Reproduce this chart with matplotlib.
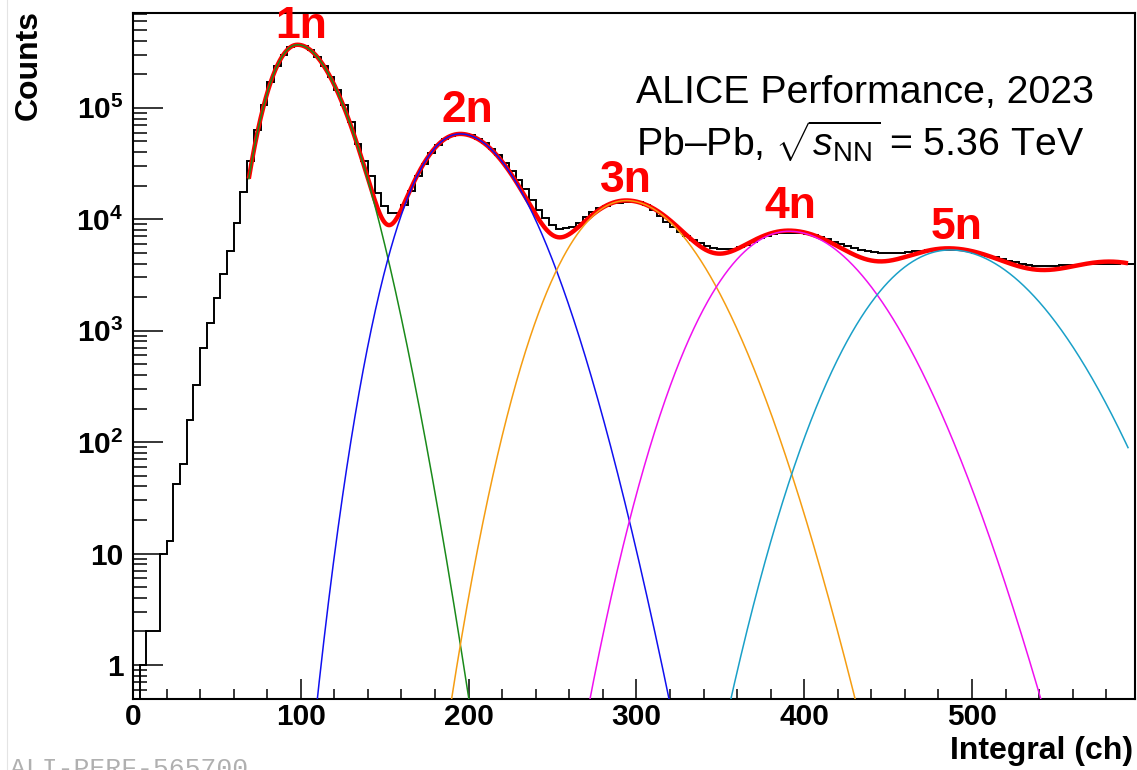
import numpy as np
import matplotlib
matplotlib.use('Agg')
from matplotlib import pyplot as plt
from matplotlib.lines import Line2D
from matplotlib.ticker import FixedLocator, MultipleLocator, FuncFormatter, NullFormatter

plt.rcParams['font.family'] = ['Liberation Sans', 'DejaVu Sans']
plt.rcParams['mathtext.fontset'] = 'custom'
plt.rcParams['mathtext.rm'] = 'Liberation Sans'
plt.rcParams['mathtext.it'] = 'Liberation Sans:italic'
plt.rcParams['mathtext.bf'] = 'Liberation Sans:bold'

# ZDC integral spectrum, 4 channels per bin starting at 0
bin_width = 4
counts = [0, 1, 2, 2, 10, 13, 42, 64, 157, 328, 701, 1167, 1958, 3234, 5224, 9290, 17660, 33000,
          63000, 106000, 170000, 235000, 300000, 354000, 366000, 360000, 328000, 285000,
          238000, 190000, 145000, 106000, 74000, 47000, 33000, 24200, 17100, 13200,
          11300, 11300, 13400, 18000, 24500, 31500, 39000, 46000, 52000, 56000,
          58300, 58300, 56500, 53000, 48500, 43000, 37500, 32000, 27000, 22500,
          18500, 15000, 12100, 10200, 8900, 8130, 8300, 8600, 9200, 10500,
          11700, 12600, 13200, 13900, 13900, 14200, 14200, 14200, 13400, 12100,
          10700, 9500, 8600, 7700, 7080, 6500, 6100, 5700, 5500, 5400,
          5400, 5450, 5600, 5900, 6300, 6800, 7100, 7400, 7550, 7600,
          7600, 7500, 7350, 7150, 6900, 6600, 6300, 6000, 5750, 5500,
          5300, 5150, 5050, 4950, 4950, 4950, 5000, 5050, 5150, 5200,
          5300, 5300, 5350, 5350, 5300, 5250, 5150, 5000, 4850, 4700,
          4550, 4400, 4250, 4100, 3950, 3850, 3800, 3800, 3800, 3800,
          3850, 3850, 3850, 3900, 3950, 4000, 4000, 4000, 4000, 4050,
          4000, 4000]

# fitted neutron peaks: position, height, widths (in sqrt(ch)) left / right of the peak
peak_names = ['1n', '2n', '3n', '4n', '5n', '6n']
peak_pos = [98, 195, 294, 391, 487, 586]
peak_height = [3.68e5, 5.83e4, 1.47e4, 7.8e3, 5.3e3, 4.0e3]
sigma_left = [0.677, 0.721, 0.742, 0.744, 0.741, 0.740]
sigma_right = [0.817, 0.809, 0.793, 0.793, 0.799, 0.800]
peak_colors = ['#1a8a1a', '#1010f0', '#f59d12', '#f010f0', '#1aa0c8', None]
fit_range = (69, 593)

label_x = [100, 199.4, 293.5, 392, 491]
label_logy = [5.629, 4.874, 4.248, 4.009, 3.82]


def peak_shape(x, i):
    d = np.sqrt(x) - np.sqrt(peak_pos[i])
    s = np.where(d < 0, sigma_left[i], sigma_right[i])
    return peak_height[i] * np.exp(-d**2 / (2 * s**2))


def log_label(v, pos):
    if v == 1:
        return '1'
    if v == 10:
        return '10'
    return r'$\mathbf{10^{%d}}$' % round(np.log10(v))


fig = plt.figure(figsize=(11.37, 7.70), dpi=100)
ax = fig.add_axes([0.117, 0.0922, 0.881, 0.891])
ax.set_yscale('log')

edges = np.arange(len(counts) + 1) * bin_width
shown = np.clip(np.array(counts, dtype=float), 1e-2, None)
ax.stairs(shown, edges, color='k', lw=1.4, baseline=1e-2, zorder=2)

xs = np.linspace(fit_range[0], fit_range[1], 1500)
total = sum(peak_shape(xs, i) for i in range(len(peak_pos)))
ax.plot(xs, total, color='#ff0000', lw=3.2, zorder=3, solid_capstyle='butt')
for i, c in enumerate(peak_colors):
    if c is None:
        continue
    ax.plot(xs, peak_shape(xs, i), color=c, lw=1.1, zorder=4)

for name, lx, ly in zip(peak_names, label_x, label_logy):
    ax.text(lx, 10**ly, name, color='#ff0000', fontsize=32, fontweight='bold',
            ha='center', va='baseline', zorder=5, clip_on=False)

ax.set_xlim(0, 597)
ax.set_ylim(0.495, 7.1e5)

ax.xaxis.set_major_locator(MultipleLocator(100))
ax.xaxis.set_minor_locator(MultipleLocator(20))
ax.yaxis.set_major_locator(FixedLocator([10.0**k for k in range(0, 6)]))
ax.yaxis.set_minor_locator(FixedLocator([m * 10.0**k for k in range(-1, 6) for m in range(2, 10)]))
ax.yaxis.set_major_formatter(FuncFormatter(log_label))
ax.yaxis.set_minor_formatter(NullFormatter())

ax.tick_params(axis='both', which='both', direction='in', top=False, right=False,
               width=1.1, labelsize=21.5)
ax.tick_params(axis='x', which='major', length=14.5, pad=3)
ax.tick_params(axis='x', which='minor', length=7.2)
ax.tick_params(axis='y', which='major', length=21.6, pad=7)
ax.tick_params(axis='y', which='minor', length=10)
for lab in ax.get_xticklabels() + ax.get_yticklabels():
    lab.set_fontweight('bold')
for sp in ax.spines.values():
    sp.set_linewidth(1.5)

fig.text(29 / 1137, 1 - 10 / 770, 'Counts', rotation=90, fontsize=23, fontweight='bold',
         ha='center', va='top')
fig.text(1133 / 1137, 1 - 759 / 770, 'Integral (ch)', fontsize=23, fontweight='bold',
         ha='right', va='baseline')

fig.text(636 / 1137, 1 - 102.6 / 770, 'ALICE Performance, 2023', fontsize=28.3,
         ha='left', va='baseline')
fig.text(636 / 1137, 1 - 155.9 / 770, r'Pb–Pb, $\sqrt{s_{\mathrm{NN}}}$ = 5.36 TeV', fontsize=28.3,
         ha='left', va='baseline')

fig.text(10 / 1137, 1 - 757.5 / 770, 'ALI-PERF-565700', family='Liberation Mono',
         fontsize=19, color='#b0b0b0', ha='left', va='top')
fig.add_artist(Line2D([6.5 / 1137, 6.5 / 1137], [0, 1], transform=fig.transFigure,
                      color='#e4e4e4', lw=0.8))

fig.savefig('out.png', dpi=100)
